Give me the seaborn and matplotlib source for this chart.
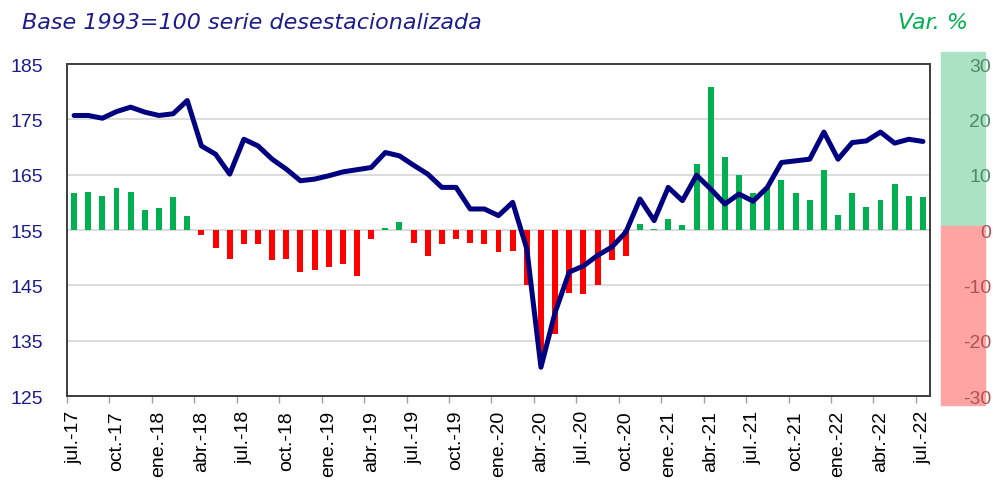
import numpy as np
import pandas as pd
import matplotlib.pyplot as plt
import seaborn as sns
from matplotlib.patches import Rectangle

# monthly series jul-17 .. jul-22 (61 months)
index_values = [175.7, 175.7, 175.2, 176.4, 177.2, 176.3, 175.7, 176.0, 178.4, 170.2,
                168.7, 165.1, 171.4, 170.2, 167.8, 166.0, 163.9, 164.2, 164.8, 165.5,
                165.9, 166.3, 169.0, 168.4, 166.7, 165.1, 162.7, 162.7, 158.8, 158.8,
                157.6, 160.0, 151.6, 130.2, 140.1, 147.4, 148.5, 150.4, 151.9, 154.6,
                160.6, 156.7, 162.7, 160.3, 164.9, 162.4, 159.7, 161.5, 160.2, 162.7,
                167.2, 167.5, 167.8, 172.7, 167.8, 170.8, 171.1, 172.7, 170.7, 171.4,
                171.0]
pct_change = [6.6, 6.9, 6.1, 7.6, 6.9, 3.7, 3.9, 5.9, 2.5, -0.9,
              -3.2, -5.2, -2.6, -2.6, -5.5, -5.2, -7.6, -7.2, -6.7, -6.1,
              -8.4, -1.7, 0.3, 1.4, -2.3, -4.7, -2.6, -1.7, -2.4, -2.6,
              -4.0, -3.8, -9.9, -22.6, -18.8, -11.3, -11.6, -9.9, -5.5, -4.7,
              1.1, 0.1, 1.9, 0.9, 12.0, 25.9, 13.2, 10.0, 6.6, 7.6,
              9.1, 6.6, 5.5, 10.9, 2.8, 6.6, 4.1, 5.5, 8.4, 6.1,
              6.0]
tick_labels = ["jul.-17", "oct.-17", "ene.-18", "abr.-18", "jul.-18", "oct.-18",
               "ene.-19", "abr.-19", "jul.-19", "oct.-19", "ene.-20", "abr.-20",
               "jul.-20", "oct.-20", "ene.-21", "abr.-21", "jul.-21", "oct.-21",
               "ene.-22", "abr.-22", "jul.-22"]
left_ticks = [125, 135, 145, 155, 165, 175, 185]
right_ticks = [-30, -20, -10, 0, 10, 20, 30]

NAVY = "#000080"
GREEN = "#00B050"
RED = "#FF0000"

df = pd.DataFrame({"month": np.arange(len(index_values)),
                   "index": index_values,
                   "pct": pct_change})
df["sign"] = np.where(df["pct"] >= 0, "pos", "neg")

sns.set_style("white")
plt.rcParams["font.family"] = ["Liberation Sans", "DejaVu Sans"]
plt.rcParams["axes.unicode_minus"] = False

fig = plt.figure(figsize=(9.93, 4.85), dpi=100)
W, H = 993, 485
ax = fig.add_axes([67 / W, 1 - 397 / H, (930 - 67) / W, (397 - 65) / H])
ax2 = ax.twinx()

# bars on the right axis, drawn behind the line
sns.barplot(data=df, x="month", y="pct", hue="sign", native_scale=True,
            palette={"pos": GREEN, "neg": RED}, width=0.42, dodge=False,
            saturation=1, linewidth=0, legend=False, ax=ax2, zorder=2)
ax2.set_ylim(-30, 30)
ax2.set_yticks(right_ticks)
ax2.grid(axis="y", color="#d9d9d9", lw=1.3)
ax2.set_axisbelow(True)
ax2.set_ylabel("")
ax2.tick_params(axis="y", length=0, pad=44, labelsize=14)
for lab, v in zip(ax2.get_yticklabels(), right_ticks):
    lab.set_horizontalalignment("right")
    lab.set_color("#4e8a66" if v > 0 else "#b05252")

sns.lineplot(data=df, x="month", y="index", color=NAVY, lw=3.6, ax=ax,
             solid_joinstyle="round", solid_capstyle="round")
ax.set_zorder(ax2.get_zorder() + 1)
ax.patch.set_visible(False)
ax.set_ylim(125, 185)
ax.set_yticks(left_ticks)
ax.tick_params(axis="y", length=0, pad=17, labelsize=14, labelcolor="#1c1c8c")
ax.set_xlim(-0.5, len(index_values) - 0.5)
ax.set_xlabel("")
ax.set_ylabel("")

# labels at category centres, tick marks at category boundaries
ax.set_xticks(np.arange(0, len(index_values), 3))
ax.set_xticklabels(tick_labels, rotation=90, fontsize=14)
ax.set_xticks(np.arange(-0.5, len(index_values), 3), minor=True)
ax.tick_params(axis="x", which="major", length=0, pad=10, colors="black")
ax.tick_params(axis="x", which="minor", bottom=True, length=5, width=1, color="#a0a0a0")

for a in (ax, ax2):
    for s in a.spines.values():
        s.set_color("#404040")
        s.set_linewidth(1.3)

# coloured band behind the right-hand labels
fig.add_artist(Rectangle((941 / W, 1 - 227 / H), 44 / W, (227 - 53) / H,
                         transform=fig.transFigure, color="#a9e3c4", zorder=0))
fig.add_artist(Rectangle((941 / W, 1 - 406 / H), 44 / W, (406 - 227) / H,
                         transform=fig.transFigure, color="#ffa3a3", zorder=0))

fig.text(22 / W, 1 - 23 / H, "Base 1993=100 serie desestacionalizada",
         fontsize=16, style="italic", color="#1c1c8c", va="center",
         family="DejaVu Sans")
fig.text(968 / W, 1 - 23 / H, "Var. %", fontsize=16, style="italic",
         color=GREEN, va="center", ha="right", family="DejaVu Sans")

fig.savefig("out.png", dpi=100)
